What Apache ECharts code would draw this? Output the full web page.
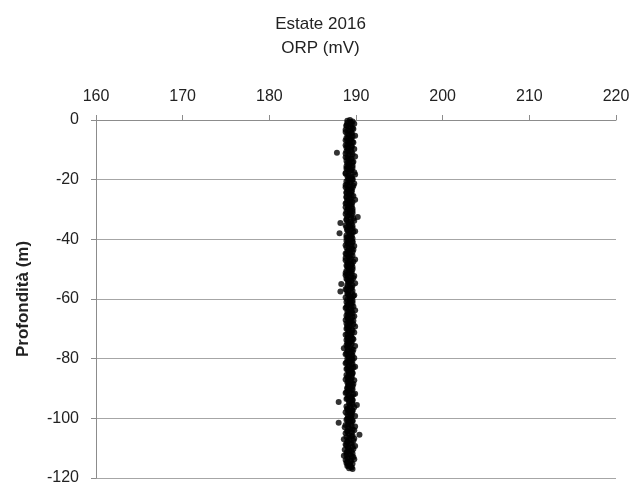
<!DOCTYPE html>
<html>
<head>
<meta charset="utf-8">
<script src="https://cdn.jsdelivr.net/npm/echarts@6/dist/echarts.min.js"></script>
<style>
html,body{margin:0;padding:0;background:#fff;}
#chart{width:641px;height:487px;}
</style>
</head>
<body>
<div id="chart"></div>
<script>
// ORP profile, summer 2016: ORP (mV) vs depth (m)
const xTicks = [160, 170, 180, 190, 200, 210, 220];
const yTicks = [0, -20, -40, -60, -80, -100, -120];

// readings taken on the half metre
const depthA = [
  0,-0.5,-1,-1.5,-2,-2.5,-3,-3.5,-4,-4.5,
  -5,-5.5,-6,-6.5,-7,-7.5,-8,-8.5,-9,-9.5,
  -10,-10.5,-11,-11.5,-12,-12.5,-13,-13.5,-14,-14.5,
  -15,-15.5,-16,-16.5,-17,-17.5,-18,-18.5,-19,-19.5,
  -20,-20.5,-21,-21.5,-22,-22.5,-23,-23.5,-24,-24.5,
  -25,-25.5,-26,-26.5,-27,-27.5,-28,-28.5,-29,-29.5,
  -30,-30.5,-31,-31.5,-32,-32.5,-33,-33.5,-34,-34.5,
  -35,-35.5,-36,-36.5,-37,-37.5,-38,-38.5,-39,-39.5,
  -40,-40.5,-41,-41.5,-42,-42.5,-43,-43.5,-44,-44.5,
  -45,-45.5,-46,-46.5,-47,-47.5,-48,-48.5,-49,-49.5,
  -50,-50.5,-51,-51.5,-52,-52.5,-53,-53.5,-54,-54.5,
  -55,-55.5,-56,-56.5,-57,-57.5,-58,-58.5,-59,-59.5,
  -60,-60.5,-61,-61.5,-62,-62.5,-63,-63.5,-64,-64.5,
  -65,-65.5,-66,-66.5,-67,-67.5,-68,-68.5,-69,-69.5,
  -70,-70.5,-71,-71.5,-72,-72.5,-73,-73.5,-74,-74.5,
  -75,-75.5,-76,-76.5,-77,-77.5,-78,-78.5,-79,-79.5,
  -80,-80.5,-81,-81.5,-82,-82.5,-83,-83.5,-84,-84.5,
  -85,-85.5,-86,-86.5,-87,-87.5,-88,-88.5,-89,-89.5,
  -90,-90.5,-91,-91.5,-92,-92.5,-93,-93.5,-94,-94.5,
  -95,-95.5,-96,-96.5,-97,-97.5,-98,-98.5,-99,-99.5,
  -100,-100.5,-101,-101.5,-102,-102.5,-103,-103.5,-104,-104.5,
  -105,-105.5,-106,-106.5,-107,-107.5,-108,-108.5,-109,-109.5,
  -110,-110.5,-111,-111.5,-112,-112.5,-113,-113.5,-114,-114.5,
  -115,-115.5,-116,-116.5,-117
];

const orpA = [
  189.3,189.6,189.0,189.5,188.9,189.4,189.7,189.1,188.8,189.5,
  189.2,189.6,188.9,189.4,189.0,189.7,189.3,188.8,189.5,189.1,
  189.4,188.9,187.8,189.6,189.1,188.8,189.5,189.2,189.7,189.0,
  189.3,188.9,189.6,189.0,189.4,189.8,188.8,189.2,189.5,189.1,
  189.6,188.9,189.3,189.0,189.7,188.8,189.4,189.1,189.5,188.9,
  189.2,189.7,188.9,189.4,189.0,189.6,188.8,189.3,189.5,189.1,
  189.0,189.6,189.3,188.8,189.5,190.2,189.7,188.9,189.4,188.2,
  189.2,189.6,188.9,189.4,189.0,189.7,188.1,189.3,189.5,188.9,
  189.4,188.9,189.6,189.1,188.8,189.5,189.2,189.7,189.0,189.3,
  188.9,189.6,189.2,189.4,188.8,189.7,189.1,189.5,189.0,189.3,
  189.6,188.9,189.3,189.5,188.8,189.1,189.7,189.0,189.4,189.2,
  188.3,189.6,189.0,189.4,188.9,188.2,189.5,189.1,189.7,188.8,
  189.3,189.6,188.9,189.4,189.0,189.7,188.8,189.2,189.5,189.1,
  189.4,188.9,189.6,189.1,188.8,189.5,189.3,189.7,189.0,189.2,
  188.9,189.6,189.2,189.5,188.8,189.4,189.0,189.7,189.1,189.3,
  189.5,188.9,189.3,188.6,189.7,189.0,189.4,188.8,189.6,189.2,
  189.0,189.6,189.3,188.8,189.5,189.1,189.7,188.9,189.4,189.2,
  189.6,188.9,189.2,189.5,188.8,189.4,189.0,189.7,189.1,189.3,
  189.0,189.5,189.3,188.8,189.7,189.1,189.4,188.9,189.6,188.0,
  189.2,190.1,188.9,189.4,189.0,189.6,188.8,189.3,189.5,189.1,
  189.4,188.9,189.6,188.0,189.1,189.5,188.7,189.3,189.8,189.0,
  188.8,190.4,189.5,189.2,188.6,189.7,189.0,189.4,188.9,189.6,
  189.1,188.7,189.5,188.9,189.3,188.6,189.7,189.0,188.8,189.4,
  188.9,189.3,189.0,189.5,189.6
];

// readings taken between the half metres
const depthB = [
  -0.25,-0.75,-1.25,-1.75,-2.25,-2.75,-3.25,-3.75,-4.25,-4.75,
  -5.25,-5.75,-6.25,-6.75,-7.25,-7.75,-8.25,-8.75,-9.25,-9.75,
  -10.25,-10.75,-11.25,-11.75,-12.25,-12.75,-13.25,-13.75,-14.25,-14.75,
  -15.25,-15.75,-16.25,-16.75,-17.25,-17.75,-18.25,-18.75,-19.25,-19.75,
  -20.25,-20.75,-21.25,-21.75,-22.25,-22.75,-23.25,-23.75,-24.25,-24.75,
  -25.25,-25.75,-26.25,-26.75,-27.25,-27.75,-28.25,-28.75,-29.25,-29.75,
  -30.25,-30.75,-31.25,-31.75,-32.25,-32.75,-33.25,-33.75,-34.25,-34.75,
  -35.25,-35.75,-36.25,-36.75,-37.25,-37.75,-38.25,-38.75,-39.25,-39.75,
  -40.25,-40.75,-41.25,-41.75,-42.25,-42.75,-43.25,-43.75,-44.25,-44.75,
  -45.25,-45.75,-46.25,-46.75,-47.25,-47.75,-48.25,-48.75,-49.25,-49.75,
  -50.25,-50.75,-51.25,-51.75,-52.25,-52.75,-53.25,-53.75,-54.25,-54.75,
  -55.25,-55.75,-56.25,-56.75,-57.25,-57.75,-58.25,-58.75,-59.25,-59.75,
  -60.25,-60.75,-61.25,-61.75,-62.25,-62.75,-63.25,-63.75,-64.25,-64.75,
  -65.25,-65.75,-66.25,-66.75,-67.25,-67.75,-68.25,-68.75,-69.25,-69.75,
  -70.25,-70.75,-71.25,-71.75,-72.25,-72.75,-73.25,-73.75,-74.25,-74.75,
  -75.25,-75.75,-76.25,-76.75,-77.25,-77.75,-78.25,-78.75,-79.25,-79.75,
  -80.25,-80.75,-81.25,-81.75,-82.25,-82.75,-83.25,-83.75,-84.25,-84.75,
  -85.25,-85.75,-86.25,-86.75,-87.25,-87.75,-88.25,-88.75,-89.25,-89.75,
  -90.25,-90.75,-91.25,-91.75,-92.25,-92.75,-93.25,-93.75,-94.25,-94.75,
  -95.25,-95.75,-96.25,-96.75,-97.25,-97.75,-98.25,-98.75,-99.25,-99.75,
  -100.25,-100.75,-101.25,-101.75,-102.25,-102.75,-103.25,-103.75,-104.25,-104.75,
  -105.25,-105.75,-106.25,-106.75,-107.25,-107.75,-108.25,-108.75,-109.25,-109.75,
  -110.25,-110.75,-111.25,-111.75,-112.25,-112.75,-113.25,-113.75,-114.25,-114.75,
  -115.25,-115.75,-116.25,-116.75
];

const orpB = [
  189.0,189.4,189.8,188.9,189.2,189.6,188.8,189.3,189.5,189.0,
  189.9,189.1,189.4,188.8,189.6,189.2,189.0,189.5,188.9,189.8,
  189.1,189.5,188.8,189.3,189.9,189.0,189.4,188.9,189.6,189.2,
  189.6,189.1,188.9,189.5,189.2,188.8,189.9,189.0,189.4,189.6,
  189.1,189.4,189.8,188.8,189.2,189.6,189.0,189.5,188.9,189.3,
  189.5,188.9,189.2,189.9,189.3,188.9,189.5,189.1,188.8,189.6,
  189.3,188.9,189.6,189.2,189.0,189.4,188.9,189.8,189.1,189.5,
  188.8,189.3,189.6,189.0,189.9,189.2,189.5,188.9,189.1,189.6,
  189.1,189.6,189.0,189.4,189.8,188.9,189.5,189.1,189.6,188.8,
  189.4,189.1,188.8,189.9,189.3,189.0,189.5,188.9,189.6,189.1,
  189.2,189.5,188.8,189.0,189.8,189.4,188.9,189.5,189.1,189.9,
  189.0,189.3,189.5,188.8,189.6,189.1,189.0,189.8,189.3,189.5,
  189.0,189.3,189.6,189.1,189.5,188.9,189.4,189.9,189.0,189.6,
  189.1,189.8,189.0,189.4,189.7,189.1,188.9,189.3,189.9,189.0,
  189.5,189.1,189.8,189.0,189.4,189.1,189.6,188.9,189.5,189.0,
  189.1,189.9,189.0,189.5,189.1,189.6,188.9,189.5,189.1,189.8,
  189.5,189.1,188.9,189.6,189.2,189.9,189.0,189.5,189.1,189.6,
  189.2,189.5,189.0,189.1,189.8,189.1,189.5,189.2,189.6,189.0,
  189.6,189.1,188.9,189.9,189.2,189.5,189.0,189.6,189.2,189.5,
  189.6,189.3,189.8,189.0,189.6,189.2,189.5,189.0,189.9,189.4,
  189.0,189.6,189.1,189.4,188.8,189.9,189.1,189.6,189.0,189.5,
  189.2,189.6,188.9,189.8,189.2,189.0,189.5,188.8,189.9,189.1,
  189.7,189.2,189.0,189.6,188.9,189.5,189.1,189.8,189.4,189.0,
  189.6,189.1,189.4,189.2
];

const points = orpA.map((v, i) => [v, depthA[i]])
  .concat(orpB.map((v, i) => [v, depthB[i]]));

const FONT = "'Liberation Sans Narrow', 'Arial Narrow', 'Liberation Sans', Arial, sans-serif";
const AXIS_GRAY = '#8c8c8c';

const chart = echarts.init(document.getElementById('chart'), null, { renderer: 'canvas' });
chart.setOption({
  animation: false,
  backgroundColor: '#ffffff',
  title: {
    text: 'Estate 2016\nORP (mV)',
    left: 'center',
    top: 7,
    textStyle: { fontFamily: FONT, fontSize: 17, fontWeight: 'normal', color: '#222', lineHeight: 24 }
  },
  grid: { left: 96, right: 25, top: 120, bottom: 9 },
  xAxis: {
    type: 'value',
    position: 'top',
    min: xTicks[0],
    max: xTicks[xTicks.length - 1],
    interval: 10,
    axisLine: { show: true, onZero: false, lineStyle: { color: AXIS_GRAY, width: 1 } },
    axisTick: { show: true, inside: false, length: 5, lineStyle: { color: AXIS_GRAY } },
    splitLine: { show: false },
    axisLabel: { fontFamily: FONT, fontSize: 16, color: '#222', margin: 15 }
  },
  yAxis: {
    type: 'value',
    min: yTicks[yTicks.length - 1],
    max: yTicks[0],
    interval: 20,
    name: 'Profondità (m)',
    nameLocation: 'middle',
    nameRotate: 90,
    nameGap: 64,
    nameTextStyle: { fontFamily: FONT, fontSize: 17, fontWeight: 'bold', color: '#222' },
    axisLine: { show: true, onZero: false, lineStyle: { color: AXIS_GRAY, width: 1 } },
    axisTick: { show: true, inside: false, length: 5, lineStyle: { color: AXIS_GRAY } },
    splitLine: { show: true, lineStyle: { color: '#a6a6a6', width: 1 } },
    axisLabel: { fontFamily: FONT, fontSize: 16, color: '#222', margin: 17 }
  },
  series: [{
    type: 'scatter',
    data: points,
    symbol: 'circle',
    symbolSize: 6,
    itemStyle: { color: '#000000' },
    silent: true
  }]
});
</script>
</body>
</html>
